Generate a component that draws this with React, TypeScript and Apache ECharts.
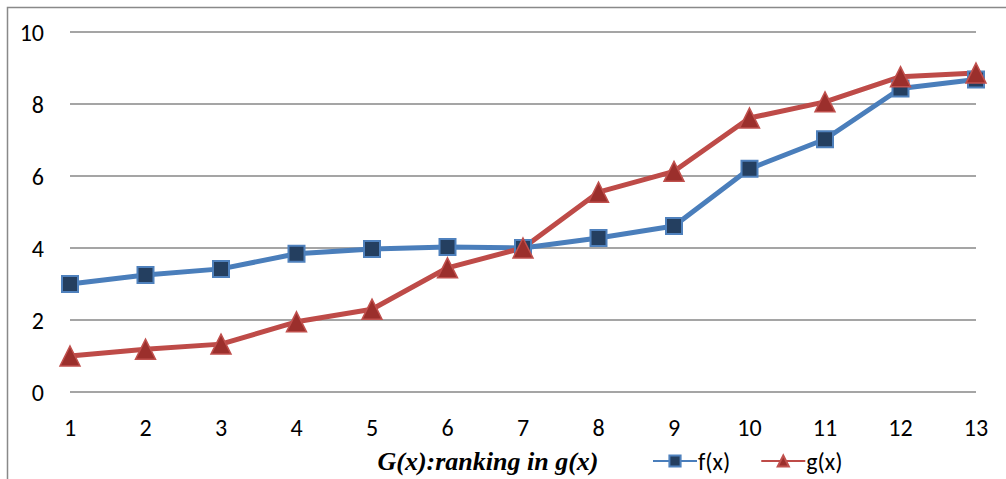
import React, { useEffect, useRef } from "react";
import * as echarts from "echarts";

const categories = ["1", "2", "3", "4", "5", "6", "7", "8", "9", "10", "11", "12", "13"];
const fValues = [3.0, 3.25, 3.42, 3.84, 3.97, 4.03, 4.0, 4.28, 4.61, 6.2, 7.02, 8.43, 8.68];
const gValues = [1.0, 1.19, 1.33, 1.95, 2.3, 3.45, 4.0, 5.55, 6.13, 7.61, 8.06, 8.76, 8.86];
const yTicks = { min: 0, max: 10, interval: 2 };
const titleText = "G(x):ranking in g(x)";
const seriesNames = ["f(x)", "g(x)"];

export default function App() {
  const ref = useRef<HTMLDivElement>(null);
  useEffect(() => {
    if (!ref.current) return;
    const chart = echarts.init(ref.current, null, { renderer: "svg" });
    const labelFont = "Carlito, Lato, sans-serif";
    chart.setOption({
      animation: false,
      backgroundColor: "#ffffff",
      grid: { left: 70, right: 30, top: 32, bottom: 87, containLabel: false },
      xAxis: {
        type: "category",
        data: categories,
        boundaryGap: false,
        axisLine: { show: false },
        axisTick: { show: false },
        splitLine: { show: false },
        axisLabel: { color: "#000", fontSize: 24, fontFamily: labelFont, margin: 23 },
      },
      yAxis: {
        type: "value",
        min: yTicks.min,
        max: yTicks.max,
        interval: yTicks.interval,
        axisLine: { show: false },
        axisTick: { show: false },
        splitLine: { show: true, lineStyle: { color: "#878787", width: 1.5 } },
        axisLabel: { color: "#000", fontSize: 24, fontFamily: labelFont, margin: 26 },
      },
      legend: {
        left: 652,
        top: 449,
        padding: 0,
        itemWidth: 44,
        itemHeight: 14,
        itemGap: 30,
        textStyle: { color: "#000", fontSize: 24, fontFamily: labelFont, padding: [0, 0, 0, -4] },
        data: seriesNames,
      },
      graphic: [
        {
          type: "rect",
          shape: { x: 7.5, y: 7.5, width: 1010, height: 490 },
          style: { fill: "none", stroke: "#898989", lineWidth: 1.5 },
          silent: true,
        },
        {
          type: "text",
          x: 488,
          y: 461,
          style: {
            text: titleText,
            font: "italic bold 26px Liberation Serif, serif",
            fill: "#000",
            align: "center",
            verticalAlign: "middle",
          },
        },
      ],
      series: [
        {
          name: seriesNames[0],
          type: "line",
          data: fValues,
          symbol: "rect",
          symbolSize: 16,
          lineStyle: { color: "#4A7EBB", width: 5 },
          itemStyle: { color: "#243F60", borderColor: "#4F81BD", borderWidth: 2 },
        },
        {
          name: seriesNames[1],
          type: "line",
          data: gValues,
          symbol: "triangle",
          symbolSize: 20,
          lineStyle: { color: "#BE4B48", width: 5 },
          itemStyle: { color: "#9B2F2C", borderColor: "#C0504D", borderWidth: 1.5 },
        },
      ],
    });
    return () => chart.dispose();
  }, []);
  return (
    <div
      ref={ref}
      style={{ position: "fixed", left: 0, top: 0, width: 1006, height: 479, background: "#fff" }}
    />
  );
}
